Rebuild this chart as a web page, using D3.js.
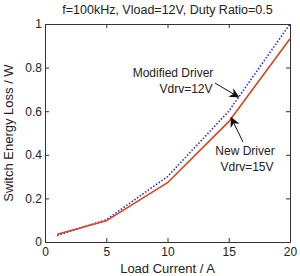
<!DOCTYPE html>
<html>
<head>
<meta charset="utf-8">
<script src="https://cdn.jsdelivr.net/npm/d3@7"></script>
<style>
  body { margin: 0; background: #fff; }
  text { font-family: "Liberation Sans", Arial, sans-serif; fill: #222; }
</style>
</head>
<body>
<svg id="canvas" width="300" height="276"></svg>
<script>
var loadCurrent = [1, 5, 10, 15, 20];
var newDriver = [0.036, 0.097, 0.272, 0.552, 0.932];
var modifiedDriver = [0.03, 0.102, 0.3, 0.6, 1.0];
var xTicks = [0, 5, 10, 15, 20];
var yTicks = [0, 0.2, 0.4, 0.6, 0.8, 1];

(function() {
    var svg = d3.select('#canvas');
    var left = 45, right = 290, top = 24, bottom = 242;

    var x = d3.scaleLinear().domain([0, 20]).range([left, right]);
    var y = d3.scaleLinear().domain([0, 1]).range([bottom, top]);

    svg.append('defs').append('marker')
        .attr('id', 'arrow')
        .attr('viewBox', '0 0 10 10')
        .attr('refX', 9).attr('refY', 5)
        .attr('markerWidth', 10).attr('markerHeight', 10)
        .attr('markerUnits', 'userSpaceOnUse')
        .attr('orient', 'auto')
        .append('path')
        .attr('d', 'M0,0 L10,5 L0,10 L3,5 Z')
        .attr('fill', '#111');

    // axes, ticks pointing inwards on every side
    svg.append('g')
        .attr('transform', 'translate(0,' + bottom + ')')
        .call(d3.axisBottom(x).tickValues(xTicks).tickSizeInner(-4).tickSizeOuter(0).tickPadding(5));
    svg.append('g')
        .attr('transform', 'translate(0,' + top + ')')
        .call(d3.axisTop(x).tickValues(xTicks).tickSizeInner(-4).tickSizeOuter(0).tickFormat(''));
    svg.append('g')
        .attr('transform', 'translate(' + left + ',0)')
        .call(d3.axisLeft(y).tickValues(yTicks).tickSizeInner(-4).tickSizeOuter(0).tickPadding(3).tickFormat(d3.format('~g')));
    svg.append('g')
        .attr('transform', 'translate(' + right + ',0)')
        .call(d3.axisRight(y).tickValues(yTicks).tickSizeInner(-4).tickSizeOuter(0).tickFormat(''));

    svg.selectAll('.domain').attr('stroke', '#333');
    svg.selectAll('.tick line').attr('stroke', '#333');
    svg.selectAll('.tick text')
        .style('font-family', '"Liberation Sans", Arial, sans-serif')
        .style('font-size', '12px')
        .attr('fill', '#222');

    var line = d3.line()
        .x(function(d, i) { return x(loadCurrent[i]); })
        .y(function(d) { return y(d); });

    svg.append('path')
        .datum(modifiedDriver)
        .attr('d', line)
        .attr('fill', 'none')
        .attr('stroke', '#2b2bdc')
        .attr('stroke-width', 1.6)
        .attr('stroke-dasharray', '1.5,1.8');

    svg.append('path')
        .datum(newDriver)
        .attr('d', line)
        .attr('fill', 'none')
        .attr('stroke', '#e0401e')
        .attr('stroke-width', 1.6);

    // annotations
    svg.append('line')
        .attr('x1', 215).attr('y1', 83)
        .attr('x2', x(15.8)).attr('y2', y(0.665))
        .attr('stroke', '#111').attr('stroke-width', 1)
        .attr('marker-end', 'url(#arrow)');
    svg.append('line')
        .attr('x1', 243).attr('y1', 142)
        .attr('x2', x(15.2)).attr('y2', y(0.57))
        .attr('stroke', '#111').attr('stroke-width', 1)
        .attr('marker-end', 'url(#arrow)');

    var note = svg.append('g').style('font-size', '12px');
    note.append('text').attr('x', 173).attr('y', 77).attr('text-anchor', 'middle').text('Modified Driver');
    note.append('text').attr('x', 186).attr('y', 93).attr('text-anchor', 'middle').text('Vdrv=12V');
    note.append('text').attr('x', 245).attr('y', 155).attr('text-anchor', 'middle').text('New Driver');
    note.append('text').attr('x', 247).attr('y', 171).attr('text-anchor', 'middle').text('Vdrv=15V');

    svg.append('text')
        .attr('x', (left + right) / 2).attr('y', 14)
        .attr('text-anchor', 'middle')
        .style('font-size', '12.5px')
        .text('f=100kHz, Vload=12V, Duty Ratio=0.5');

    svg.append('text')
        .attr('x', (left + right) / 2).attr('y', 273)
        .attr('text-anchor', 'middle')
        .style('font-size', '13px')
        .text('Load Current / A');

    svg.append('text')
        .attr('transform', 'translate(13,' + (top + bottom) / 2 + ') rotate(-90)')
        .attr('text-anchor', 'middle')
        .style('font-size', '13px')
        .text('Switch Energy Loss / W');
})();
</script>
</body>
</html>
